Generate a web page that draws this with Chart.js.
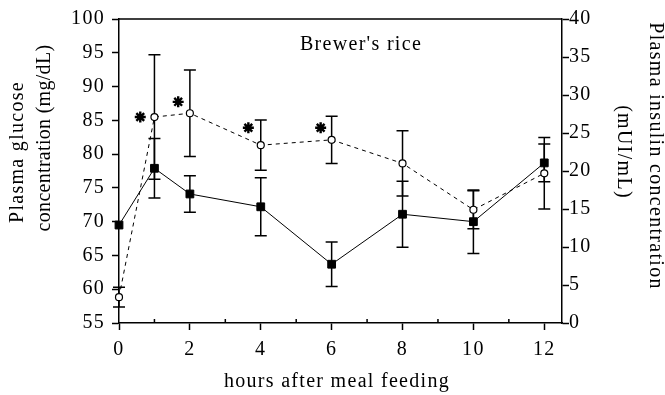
<!DOCTYPE html>
<html lang="en">
<head>
<meta charset="UTF-8">
<title>Brewer's rice</title>
<script src="https://cdn.jsdelivr.net/npm/chart.js"></script>
<style>
  body { margin: 0; background: #fff; }
  #wrap { width: 665px; height: 395px; }
</style>
</head>
<body>
<div id="wrap"><canvas id="chart" width="665" height="395"></canvas></div>
<script>
// values
const hours = [0, 1, 2, 4, 6, 8, 10, 12];
const glucose = [69.5, 77.9, 74.1, 72.2, 63.7, 71.1, 70.0, 78.7];
const glucoseErr = [0, 4.4, 2.7, 4.3, 3.3, 4.9, 4.7, 2.8];
const insulin = [3.4, 27.1, 27.6, 23.4, 24.1, 21.0, 14.9, 19.7];
const insulinErr = [1.3, 8.2, 5.7, 3.3, 3.1, 4.3, 2.5, 4.7];
const starHours = [0.6, 1.67, 3.65, 5.69];
const starLevels = [27.1, 29.1, 25.7, 25.7];
const hourTicks = [0, 2, 4, 6, 8, 10, 12];

const FONT = "'Liberation Serif', 'Times New Roman', serif";
const SPACING = '1.3px';

// spread letters a little, like the scanned figure
const spacing = {
  id: 'spacing',
  beforeLayout(chart) { chart.ctx.letterSpacing = SPACING; },
  beforeDraw(chart) { chart.ctx.letterSpacing = SPACING; }
};

// error bars, drawn under the markers
const errorBars = {
  id: 'errorBars',
  beforeDatasetsDraw(chart) {
    const ctx = chart.ctx;
    const xs = chart.scales.x;
    ctx.save();
    ctx.strokeStyle = '#000';
    ctx.lineWidth = 1.5;
    chart.data.datasets.forEach(ds => {
      if (!ds.errors) return;
      const ys = chart.scales[ds.yAxisID];
      ds.data.forEach((p, i) => {
        const e = ds.errors[i];
        if (!e) return;
        const px = xs.getPixelForValue(p.x);
        const top = ys.getPixelForValue(p.y + e);
        const bot = ys.getPixelForValue(p.y - e);
        ctx.beginPath();
        ctx.moveTo(px, top); ctx.lineTo(px, bot);
        ctx.moveTo(px - 6, top); ctx.lineTo(px + 6, top);
        ctx.moveTo(px - 6, bot); ctx.lineTo(px + 6, bot);
        ctx.stroke();
      });
    });
    ctx.restore();
  }
};

// frame top line, panel label and axis titles
const frameAndTitles = {
  id: 'frameAndTitles',
  afterDraw(chart) {
    const ctx = chart.ctx;
    const a = chart.chartArea;
    const xs = chart.scales.x;
    ctx.save();
    ctx.strokeStyle = '#000';
    ctx.lineWidth = 1.5;
    ctx.beginPath();
    ctx.moveTo(a.left, a.top); ctx.lineTo(a.right, a.top);
    // small inner ticks at the odd hours
    for (let h = 1; h < 12; h += 2) {
      const px = xs.getPixelForValue(h);
      ctx.moveTo(px, a.bottom); ctx.lineTo(px, a.bottom - 4);
    }
    ctx.stroke();

    ctx.fillStyle = '#000';
    ctx.letterSpacing = SPACING;
    ctx.font = '20px ' + FONT;
    ctx.textAlign = 'center';
    ctx.textBaseline = 'middle';
    ctx.fillText("Brewer's rice", 361, 45);
    ctx.fillText('hours after meal feeding', 337, 382);

    const vText = (txt, x, y, ang) => {
      ctx.save();
      ctx.translate(x, y);
      ctx.rotate(ang);
      ctx.fillText(txt, 0, 0);
      ctx.restore();
    };
    vText('Plasma glucose', 18, 152, -Math.PI / 2);
    ctx.letterSpacing = '0.3px';
    vText('concentration (mg/dL)', 45, 138, -Math.PI / 2);
    ctx.letterSpacing = SPACING;
    vText('Plasma insulin concentration', 655, 156, Math.PI / 2);
    vText('(mUI/mL)', 623, 152, Math.PI / 2);
    ctx.restore();
  }
};

const toPoints = (xs, ys) => xs.map((x, i) => ({ x: x, y: ys[i] }));

const axisCommon = {
  ticks: { color: '#000', font: { family: FONT, size: 20 } },
  grid: { drawOnChartArea: false, color: '#000', tickLength: 7, tickWidth: 1.5 },
  border: { color: '#000', width: 1.5 }
};

new Chart(document.getElementById('chart'), {
  type: 'line',
  data: {
    datasets: [
      {
        label: 'Plasma glucose',
        data: toPoints(hours, glucose),
        errors: glucoseErr,
        yAxisID: 'y',
        borderColor: '#000',
        borderWidth: 1,
        pointStyle: 'rect',
        pointRadius: 5.5,
        pointBackgroundColor: '#000',
        pointBorderColor: '#000',
        tension: 0,
        clip: false
      },
      {
        label: 'Plasma insulin',
        data: toPoints(hours, insulin),
        errors: insulinErr,
        yAxisID: 'y1',
        borderColor: '#000',
        borderWidth: 1,
        borderDash: [4, 4],
        pointStyle: 'circle',
        pointRadius: 3.5,
        pointBorderWidth: 1.2,
        pointBackgroundColor: '#fff',
        pointBorderColor: '#000',
        tension: 0,
        clip: false
      },
      {
        label: 'significant',
        data: toPoints(starHours, starLevels),
        yAxisID: 'y1',
        showLine: false,
        pointStyle: 'star',
        pointRadius: 5.5,
        pointBorderWidth: 2.4,
        pointBorderColor: '#000',
        pointBackgroundColor: '#000'
      }
    ]
  },
  options: {
    responsive: false,
    animation: false,
    layout: { padding: { top: 19, left: 0, right: 0, bottom: 0 } },
    plugins: { legend: { display: false }, tooltip: { enabled: false } },
    scales: {
      x: {
        type: 'linear',
        position: 'bottom',
        min: 0,
        max: 12.5,
        ...axisCommon,
        ticks: { ...axisCommon.ticks, padding: 8 },
        afterBuildTicks: s => { s.ticks = hourTicks.map(v => ({ value: v })); },
        afterFit: s => { s.height = 72; }
      },
      y: {
        position: 'left',
        min: 55,
        max: 100,
        ...axisCommon,
        ticks: { ...axisCommon.ticks, stepSize: 5, padding: 7 },
        afterFit: s => { s.width = 119; }
      },
      y1: {
        position: 'right',
        min: 0,
        max: 40,
        ...axisCommon,
        ticks: { ...axisCommon.ticks, stepSize: 5, padding: 0 },
        afterFit: s => { s.width = 103; }
      }
    }
  },
  plugins: [spacing, errorBars, frameAndTitles]
});
</script>
</body>
</html>
